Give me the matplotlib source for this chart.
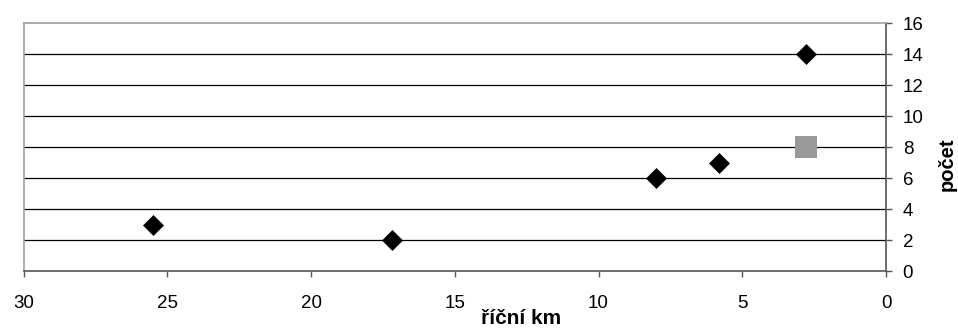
import matplotlib
matplotlib.use('Agg')
import matplotlib.pyplot as plt
from matplotlib.ticker import MultipleLocator

plt.rcParams.update({'font.family': 'Liberation Sans'})

# river km vs. count
km_main = [25.5, 17.2, 8.0, 5.8, 2.8]
count_main = [3, 2, 6, 7, 14]
km_extra = [2.8]
count_extra = [8]

fig = plt.figure(figsize=(9.58, 3.29), dpi=100)
ax = fig.add_axes([23.5 / 958, 1 - 271 / 329, (886 - 23.5) / 958, (271 - 23.3) / 329])

ax.set_xlim(30, 0)
ax.set_ylim(0, 16)
ax.xaxis.set_major_locator(MultipleLocator(5))
ax.yaxis.set_major_locator(MultipleLocator(2))
ax.yaxis.tick_right()

for y in range(2, 16, 2):
    ax.axhline(y, color='black', lw=0.9, zorder=1)

ax.scatter(km_main, count_main, marker='D', s=114, color='black', zorder=3, linewidths=0)
ax.scatter(km_extra, count_extra, marker='s', s=230, color='#999999', zorder=3, linewidths=0)

for side in ['top', 'left']:
    ax.spines[side].set_color('#a0a0a0')
    ax.spines[side].set_linewidth(1.2)
for side in ['bottom', 'right']:
    ax.spines[side].set_color('#555555')
    ax.spines[side].set_linewidth(1.2)

ax.tick_params(axis='both', direction='out', length=4, width=1, color='#555555',
               labelsize=13.5)
ax.tick_params(axis='x', pad=13.5)
ax.tick_params(axis='y', pad=8)

# axis titles
fig.text(521 / 958, 1 / 329, 'říční km', fontsize=15, fontweight='bold',
         ha='center', va='bottom')
fig.text(947 / 958, 1 - 164 / 329, 'počet', fontsize=14.5, fontweight='bold',
         ha='center', va='center', rotation=90)

fig.savefig('out.png', dpi=100, facecolor='white')
